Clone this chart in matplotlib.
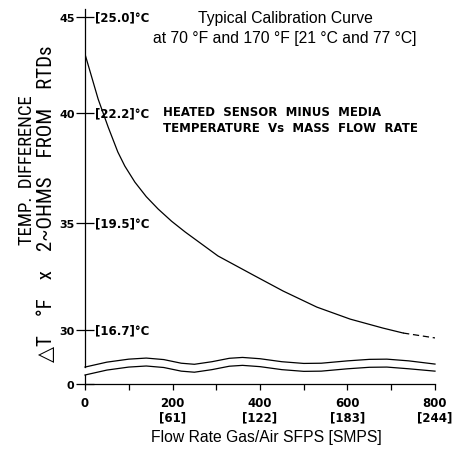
import numpy as np
import matplotlib
matplotlib.use("Agg")
import matplotlib.pyplot as plt
from matplotlib import font_manager

# --- values ---
flow = [0, 30, 53, 75, 91, 114, 140, 167, 198, 229, 304, 389, 453, 530, 606,
        681, 727]
delta_t = [43.07, 40.73, 39.36, 38.23, 37.59, 36.86, 36.20, 35.64, 35.08,
           34.58, 33.46, 32.52, 31.82, 31.07, 30.51, 30.09, 29.86]
# last part of the curve is drawn dashed
flow_dash = [727, 765, 800]
delta_t_dash = [29.86, 29.74, 29.63]

# axis break (two wavy lines)
wave_x = [0, 50, 100, 140, 180, 220, 250, 290, 330, 360, 400, 450, 500,
          540, 600, 650, 690, 740, 800]
wave_upper = [28.27, 28.50, 28.64, 28.69, 28.62, 28.45, 28.40, 28.52, 28.68,
              28.72, 28.66, 28.52, 28.44, 28.45, 28.56, 28.63, 28.64, 28.56, 28.41]
wave_lower = [27.90, 28.13, 28.27, 28.32, 28.25, 28.08, 28.03, 28.15, 28.31,
              28.35, 28.29, 28.15, 28.07, 28.08, 28.19, 28.26, 28.27, 28.19, 28.08]

y_ticks = [30, 35, 40, 45]
y_tick_labels = ['30', '35', '40', '45']
y_celsius = ['[16.7]°C', '[19.5]°C', '[22.2]°C', '[25.0]°C']
zero_pos = 27.48      # where the "0" sits below the break
y_top = 45.42

x_ticks = [0, 200, 400, 600, 800]
x_tick_labels = ['0', '200\n[61]', '400\n[122]', '600\n[183]', '800\n[244]']
x_minor = [100, 300, 500, 700]

# the printed axis is not quite linear, follow the tick spacing
scale_vals = [-1000, zero_pos, 30, 35, 40, 45, 1000]
scale_pos = [-(zero_pos + 1000) * 21.4, 0, 54, 161, 271, 367, 367 + 955 * 19.2]


def fwd(v):
    return np.interp(v, scale_vals, scale_pos)


def inv(p):
    return np.interp(p, scale_pos, scale_vals)


names = {f.name for f in font_manager.fontManager.ttflist}
narrow = 'DejaVu Sans'
for cand in ['Liberation Sans Narrow', 'DejaVu Sans Condensed', 'Roboto Condensed']:
    if cand in names:
        narrow = cand
        break

W, H = 453, 456
fig = plt.figure(figsize=(W / 100, H / 100), dpi=100)
ax = fig.add_axes([85 / W, (H - 385) / H, 350 / W, 375 / H])
ax.set_yscale('function', functions=(fwd, inv))
ax.set_xlim(0, 800)
ax.set_ylim(zero_pos, y_top)

lw = 0.9
ax.plot(flow, delta_t, color='black', lw=lw)
ax.plot(flow_dash, delta_t_dash, color='black', lw=lw, ls=(0, (5, 3)))
ax.plot(wave_x, wave_upper, color='black', lw=lw, clip_on=False)
ax.plot(wave_x, wave_lower, color='black', lw=lw, clip_on=False)

# left axis drawn by hand so it stops at the break
ax.spines['left'].set_visible(False)
ax.spines['top'].set_visible(False)
ax.spines['right'].set_visible(False)
ax.spines['bottom'].set_linewidth(0.9)
ax.plot([0, 0], [wave_upper[0], y_top], color='black', lw=0.9, clip_on=False)
ax.plot([0, 0], [zero_pos, wave_lower[0]], color='black', lw=0.9, clip_on=False)

tick_font = dict(family='DejaVu Sans', weight='bold', size=8)
ax.set_yticks([zero_pos] + y_ticks)
ax.set_yticklabels(['0'] + y_tick_labels, fontdict=tick_font)
ax.tick_params(axis='y', direction='inout', length=13, width=0.9, pad=1)
for v, lab in zip(y_ticks, y_celsius):
    ax.text(0.028, v, lab, transform=ax.get_yaxis_transform(), ha='left',
            va='center', **dict(tick_font, size=8.5))

ax.set_xticks(x_ticks)
ax.set_xticks(x_minor, minor=True)
ax.set_xticklabels(x_tick_labels, fontdict=dict(tick_font, size=8.5),
                   linespacing=1.1)
ax.tick_params(axis='x', which='both', direction='out', length=4, width=0.9, pad=5)

# titles and labels
fig.text(285 / W, 1 - 18 / H, 'Typical Calibration Curve', ha='center',
         va='center', family='Liberation Sans', size=11.3)
fig.text(285 / W, 1 - 38 / H, 'at 70 °F and 170 °F [21 °C and 77 °C]',
         ha='center', va='center', family='Liberation Sans', size=11.3)
fig.text(163 / W, 1 - 113 / H, 'HEATED  SENSOR  MINUS  MEDIA', ha='left',
         va='center', family='DejaVu Sans', weight='bold', size=8.5)
fig.text(163 / W, 1 - 128 / H, 'TEMPERATURE  Vs  MASS  FLOW  RATE', ha='left',
         va='center', family='DejaVu Sans', weight='bold', size=8.5)
fig.text(266 / W, 1 - 438 / H, 'Flow Rate Gas/Air SFPS [SMPS]', ha='center',
         va='center', family='Liberation Sans', size=11.3)
fig.text(27 / W, 1 - 170 / H, 'TEMP.  DIFFERENCE', rotation=90, ha='center',
         va='center', family=[narrow, 'DejaVu Sans'], size=13.5)
fig.text(47 / W, 1 - 204 / H, '△T    °F    x    2~OHMS    FROM    RTDs',
         rotation=90, ha='center', va='center',
         family=[narrow, 'DejaVu Sans'], size=15)

fig.savefig('out.png', dpi=100)
